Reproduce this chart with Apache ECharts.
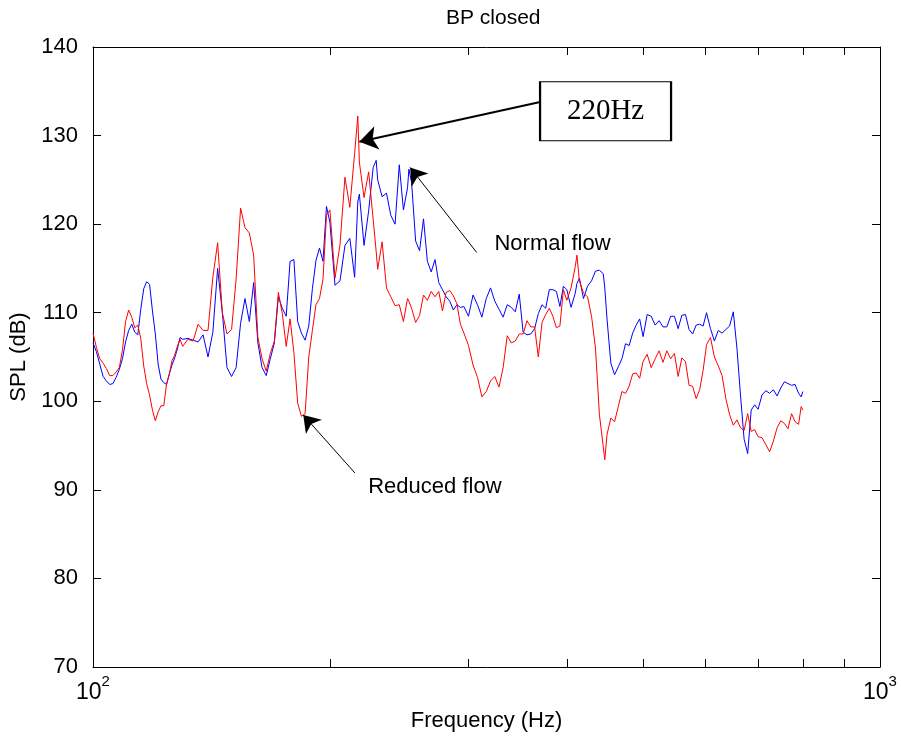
<!DOCTYPE html>
<html>
<head>
  <meta charset="utf-8">
  <title>BP closed</title>
  <script src="https://cdn.jsdelivr.net/npm/echarts@6/dist/echarts.min.js"></script>
  <style>
    html, body { margin: 0; padding: 0; background: #fff; }
    #chart { width: 901px; height: 745px; }
  </style>
</head>
<body>
  <div id="chart"></div>
  <script type="text/javascript">
    // frequency grid (Hz)
    var freq = [
      100, 101, 102, 103, 104, 105, 106, 107, 108, 109, 110, 111, 112, 113, 114, 115,
      116, 117, 118, 119, 120, 121, 122, 123, 124, 125, 126, 127, 128, 129, 130,
      132, 134, 136, 138, 140, 142, 144, 146, 148, 150, 152, 154, 156, 158, 160, 162,
      164, 166, 168, 170, 172, 174, 176, 178, 180, 182, 184, 186, 188, 190, 192, 194,
      196, 198, 200,
      203, 206, 209, 212, 215, 217, 218, 221, 224, 227, 229, 230, 233, 236, 239, 242,
      245, 248, 251, 252, 254, 257, 260, 263, 266, 269, 272, 275, 278, 281, 284, 287,
      290, 293, 296, 300,
      304, 308, 312, 316, 320, 324, 328, 332, 336, 340, 344, 348, 352, 356, 360, 364,
      368, 372, 376, 380, 384, 388, 392, 396, 400,
      405, 410, 412, 415, 420, 425, 430, 435, 440, 445, 447, 450, 455, 460, 465, 470,
      475, 480, 485, 490, 495, 500,
      506, 512, 518, 524, 530, 536, 542, 548, 554, 560, 566, 572, 578, 584, 590, 596, 602,
      609, 616, 623, 630, 637, 644, 651, 658, 665, 672, 679, 686, 693, 700,
      708, 716, 724, 732, 740, 748, 756, 764, 772, 780, 788, 794, 798
    ];

    // SPL (dB), normal flow (blue)
    var normalFlow = [
      106.6, 105.6, 104.2, 102.8, 102.3, 101.9, 102.0, 102.7, 103.6, 104.8, 106.7, 108.0, 108.7, 107.8, 107.5, 110.4,
      112.7, 113.5, 113.2, 110.2, 107.6, 104.2, 102.5, 102.1, 101.9, 103.1, 104.1, 104.9, 105.9, 107.2, 107.0,
      107.1, 106.9, 106.7, 107.5, 105.0, 107.8, 115.0, 110.0, 103.8, 102.8, 103.8, 108.8, 111.6, 109.0, 113.4, 106.6,
      103.8, 102.9, 104.8, 106.6, 111.8, 110.5, 109.6, 115.8, 116.0, 109.0, 107.7, 106.9, 108.5, 112.7, 115.9, 117.3,
      115.8, 122.0, 120.2,
      113.1, 113.6, 117.6, 118.4, 114.0, 122.5, 123.4, 117.6, 121.5, 126.4, 127.2, 125.0, 123.1, 123.5, 121.0, 120.0,
      126.7, 121.6, 124.1, 126.2, 124.7, 118.1, 117.0, 120.6, 115.8, 114.6, 116.0, 113.4, 112.6, 111.8, 111.3, 110.3,
      110.9, 110.6, 110.7, 109.6,
      112.0, 110.9, 109.5, 111.6, 112.8, 111.3, 110.4, 109.5, 110.9, 110.6, 110.1, 112.1, 107.8, 107.5, 107.6, 108.2,
      109.9, 110.9, 110.5, 112.6, 112.6, 112.4, 110.7, 113.0, 112.6,
      110.6, 112.2, 113.3, 113.9, 111.6, 113.0, 113.6, 114.7, 114.8, 114.4, 112.8, 109.2, 104.3, 103.0, 103.9, 104.8,
      106.5, 106.3, 107.7, 108.6, 109.3, 107.3,
      109.8, 109.6, 108.6, 109.1, 108.4, 108.4, 109.6, 109.6, 108.2, 109.7, 109.8, 108.1, 107.6, 108.6, 108.7, 108.5, 110.0,
      108.2, 106.8, 108.0, 107.7, 108.1, 108.5, 110.1, 106.0, 100.6, 95.7, 94.1, 99.0, 99.6, 99.1,
      100.7, 101.2, 100.9, 101.3, 100.6, 101.5, 102.2, 102.0, 101.8, 101.9, 100.9, 100.5, 101.1
    ];

    // SPL (dB), reduced flow (red)
    var reducedFlow = [
      107.7, 106.1, 104.8, 104.3, 103.7, 102.9, 102.9, 103.3, 103.8, 105.8, 109.0, 110.3, 109.5, 108.3, 108.6, 107.1,
      104.0, 102.0, 100.7, 99.0, 97.8, 98.8, 99.5, 99.5, 101.9, 103.0, 104.6, 105.2, 106.2, 107.0, 106.2,
      107.0, 106.8, 108.7, 108.0, 108.0, 114.0, 117.9, 110.0, 107.6, 108.1, 113.8, 121.8, 119.6, 119.0, 116.5, 107.2,
      104.8, 103.4, 105.4, 106.8, 112.3, 109.9, 106.2, 109.3, 105.5, 99.8, 98.3, 98.6, 105.0, 108.0, 110.9, 111.6,
      113.8, 121.0, 121.6,
      113.9, 117.7, 125.3, 121.9, 128.0, 132.2, 127.0, 123.0, 125.9, 120.5, 116.9, 114.9, 118.0, 112.8, 111.8, 110.8,
      110.9, 109.0, 111.6, 111.3, 110.5, 108.9, 109.7, 112.0, 111.4, 112.4, 111.8, 112.4, 110.2, 112.3, 112.5, 111.9,
      111.0, 108.7, 107.7, 106.3,
      104.1, 102.7, 100.5, 101.1, 102.3, 102.8, 101.6, 103.8, 107.4, 106.6, 106.8, 107.6, 107.6, 109.1, 108.4, 108.4,
      105.0, 108.9, 109.8, 110.5, 109.6, 108.3, 108.5, 112.6, 111.4,
      112.8, 115.2, 116.5, 113.6, 112.2, 111.8, 109.6, 106.0, 98.5, 94.9, 93.4, 96.3, 98.1, 97.7, 99.4, 101.1,
      100.9, 101.7, 103.1, 103.2, 102.6, 104.5,
      105.3, 103.8, 104.8, 105.7, 104.4, 105.7, 104.8, 105.4, 102.8, 104.9, 104.5, 101.8, 101.7, 100.3, 101.3, 103.5, 106.4,
      107.2, 105.0, 104.0, 102.9, 100.3, 98.5, 97.3, 97.9, 97.0, 96.7, 98.6, 96.6, 96.8, 96.0,
      95.9, 95.1, 94.3, 95.5, 97.0, 97.8, 97.5, 96.9, 98.6, 97.7, 97.4, 99.4, 99.0
    ];

    // axis ticks
    var xTicks = [100, 200, 300, 400, 500, 600, 700, 800, 900, 1000];
    var xLabels = [100, 1000];

    var FONT = 'Liberation Sans';

    function pairs(xs, ys) {
      var out = [];
      for (var i = 0; i < xs.length; i++) {
        out.push([xs[i], ys[i]]);
      }
      return out;
    }

    var textLabel = {
      show: true,
      position: 'right',
      distance: 0,
      color: '#000',
      fontFamily: FONT,
      fontSize: 22
    };

    var myChart = echarts.init(document.getElementById('chart'), null, { renderer: 'canvas' });

    var frameX = {
      type: 'log',
      logBase: 10,
      min: 100,
      max: 1000,
      axisLine: { show: true, onZero: false, lineStyle: { color: '#000', width: 1 } },
      axisTick: { show: true, inside: true, length: 8, customValues: xTicks, lineStyle: { color: '#000' } },
      splitLine: { show: false },
      minorTick: { show: false }
    };
    var frameY = {
      type: 'value',
      min: 70,
      max: 140,
      interval: 10,
      axisLine: { show: true, onZero: false, lineStyle: { color: '#000', width: 1 } },
      axisTick: { show: true, inside: true, length: 8, lineStyle: { color: '#000' } },
      splitLine: { show: false }
    };

    var option = {
      backgroundColor: '#fff',
      animation: false,
      title: {
        text: 'BP closed',
        left: 446,
        top: 8,
        padding: 0,
        textStyle: { fontFamily: FONT, fontSize: 21, fontWeight: 'normal', color: '#000' }
      },
      grid: { left: 93, right: 21, top: 47, bottom: 78 },
      xAxis: [
        Object.assign({}, frameX, {
          position: 'bottom',
          name: 'Frequency (Hz)',
          nameLocation: 'middle',
          nameGap: 43,
          nameTextStyle: { fontFamily: FONT, fontSize: 22, color: '#000' },
          axisLabel: {
            show: true,
            customValues: xLabels,
            margin: 7,
            formatter: function (v) {
              return '{b|10}{s|' + Math.round(Math.log(v) / Math.LN10) + '}';
            },
            rich: {
              b: { fontFamily: FONT, fontSize: 23, color: '#000' },
              s: { fontFamily: FONT, fontSize: 15, color: '#000', padding: [0, 0, 22, 0] }
            }
          }
        }),
        Object.assign({}, frameX, {
          position: 'top',
          axisLabel: { show: false }
        })
      ],
      yAxis: [
        Object.assign({}, frameY, {
          position: 'left',
          name: 'SPL (dB)',
          nameLocation: 'middle',
          nameGap: 56,
          nameTextStyle: { fontFamily: FONT, fontSize: 22, color: '#000' },
          axisLabel: { show: true, margin: 15, fontFamily: FONT, fontSize: 22, color: '#000' }
        }),
        Object.assign({}, frameY, {
          position: 'right',
          axisLabel: { show: false }
        })
      ],
      series: [
        {
          name: 'Normal flow',
          type: 'line',
          data: pairs(freq, normalFlow),
          showSymbol: false,
          symbol: 'none',
          lineStyle: { color: '#0000ff', width: 1 },
          z: 2
        },
        {
          name: 'Reduced flow',
          type: 'line',
          data: pairs(freq, reducedFlow),
          showSymbol: false,
          symbol: 'none',
          lineStyle: { color: '#ff0000', width: 1 },
          z: 3,
          markLine: {
            silent: true,
            animation: false,
            symbol: ['none', 'arrow'],
            label: { show: false },
            lineStyle: { color: '#000', type: 'solid' },
            data: [
              [
                { coord: [370, 133.8], lineStyle: { width: 2, color: '#000' }, symbolSize: 18 },
                { coord: [218, 129.3], symbolSize: 18 }
              ],
              [
                { coord: [307.3, 116.8], lineStyle: { width: 1, color: '#000' }, symbolSize: 16 },
                { coord: [252.9, 126.4], symbolSize: 16 }
              ],
              [
                { coord: [215.2, 91.9], lineStyle: { width: 1, color: '#000' }, symbolSize: 16 },
                { coord: [185.0, 98.45], symbolSize: 16 }
              ]
            ]
          },
          markPoint: {
            silent: true,
            animation: false,
            data: [
              {
                coord: [448, 132.75],
                symbol: 'rect',
                symbolSize: [131, 59],
                itemStyle: { color: '#fff', borderColor: '#000', borderWidth: 1.5 },
                label: {
                  show: true,
                  position: 'inside',
                  formatter: '220Hz',
                  color: '#000',
                  fontFamily: 'Liberation Serif',
                  fontSize: 29
                }
              },
              {
                coord: [323.2, 117.8],
                symbol: 'rect',
                symbolSize: 1,
                itemStyle: { color: 'rgba(0,0,0,0)' },
                label: Object.assign({}, textLabel, { formatter: 'Normal flow' })
              },
              {
                coord: [223.4, 90.3],
                symbol: 'rect',
                symbolSize: 1,
                itemStyle: { color: 'rgba(0,0,0,0)' },
                label: Object.assign({}, textLabel, { formatter: 'Reduced flow' })
              }
            ]
          }
        }
      ]
    };

    myChart.setOption(option);
  </script>
</body>
</html>
